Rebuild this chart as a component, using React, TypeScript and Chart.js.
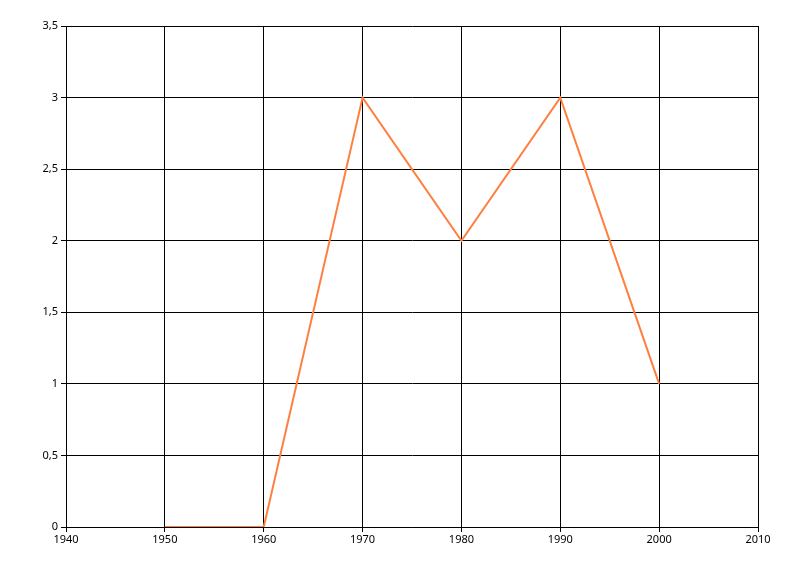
import React, { useEffect, useRef } from "react";
import { Chart, registerables } from "chart.js";

Chart.register(...registerables);

const years = [1950, 1960, 1970, 1980, 1990, 2000];
const values = [0, 0, 3, 2, 3, 1];
const xMin = 1940;
const xMax = 2010;
const yMin = 0;
const yMax = 3.5;

export default function App() {
  const ref = useRef<HTMLCanvasElement | null>(null);
  useEffect(() => {
    document.body.style.margin = "0";
    const ctx = ref.current!.getContext("2d")!;
    const chart = new Chart(ctx, {
      type: "line",
      data: {
        datasets: [
          {
            data: years.map((y, i) => ({ x: y, y: values[i] })),
            borderColor: "#FF7F3F",
            borderWidth: 2,
            pointRadius: 0,
            tension: 0,
            fill: false,
          },
        ],
      },
      options: {
        animation: false,
        responsive: false,
        maintainAspectRatio: false,
        layout: { padding: { left: 0, top: 26, right: 42, bottom: 0 } },
        plugins: { legend: { display: false }, tooltip: { enabled: false } },
        scales: {
          x: {
            type: "linear",
            min: xMin,
            max: xMax,
            ticks: {
              stepSize: 10,
              color: "#000",
              font: { family: "Noto Sans", size: 11 },
              padding: 1,
              maxRotation: 0,
              callback: (v: any) => String(v),
            },
            grid: { color: "#000", lineWidth: 1, tickLength: 5 },
            border: { color: "#000", width: 1 },
            afterFit: (s: any) => {
              s.height = 49;
            },
          },
          y: {
            type: "linear",
            min: yMin,
            max: yMax,
            ticks: {
              stepSize: 0.5,
              color: "#000",
              font: { family: "Noto Sans", size: 11 },
              padding: 3,
              callback: (v: any) => String(v).replace(".", ","),
            },
            grid: { color: "#000", lineWidth: 1, tickLength: 5 },
            border: { color: "#000", width: 1 },
            afterFit: (s: any) => {
              s.width = 66;
            },
          },
        },
      },
    });
    return () => chart.destroy();
  }, []);
  return <canvas ref={ref} width={800} height={576} style={{ display: "block" }} />;
}
